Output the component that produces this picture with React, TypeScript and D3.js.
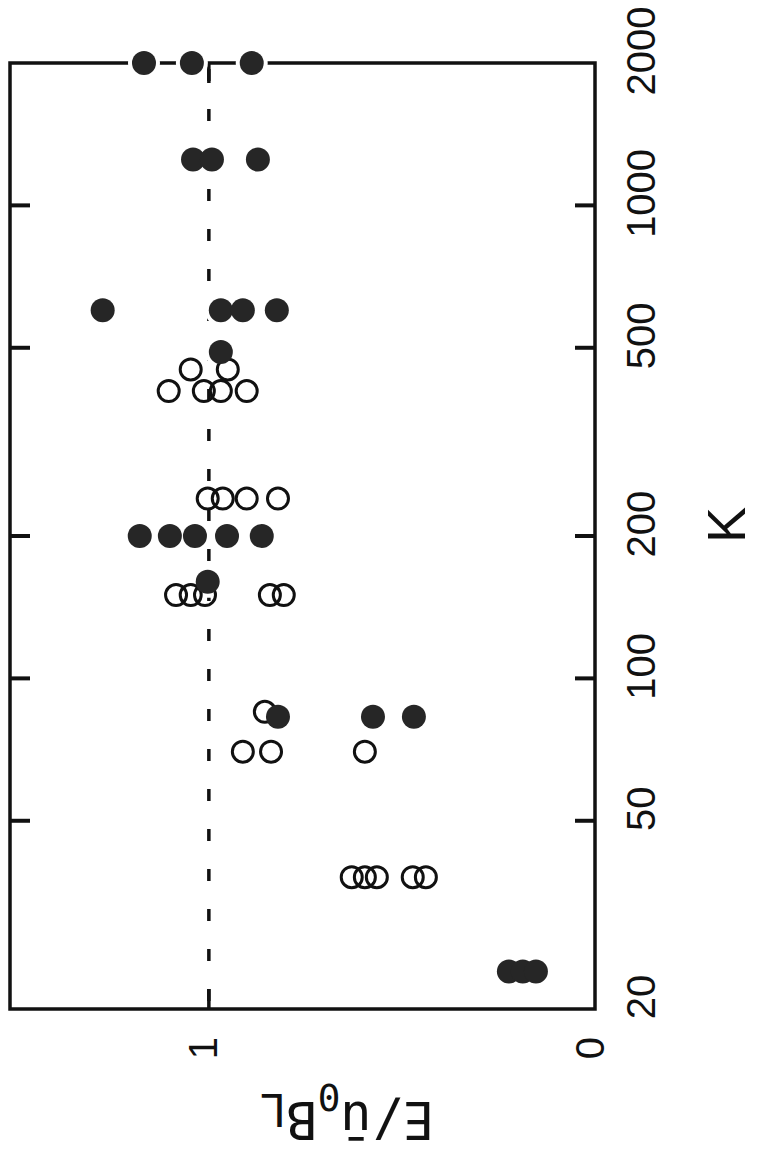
import React from "react";
import * as d3 from "d3";

// K values (log axis) and E/ū0BL values per group
const solidK = [2000, 1250, 600, 490, 200, 160, 83, 24];
const solidE = [
  [1.168, 1.044, 0.889],
  [1.041, 0.992, 0.873],
  [1.275, 0.969, 0.912, 0.824],
  [0.969],
  [1.179, 1.101, 1.036, 0.953, 0.863],
  [1.003],
  [0.821, 0.575, 0.469],
  [0.223, 0.187, 0.153],
];
const openK = [450, 405, 240, 150, 85, 70, 38];
const openE = [
  [1.047, 0.951],
  [1.104, 1.013, 0.969, 0.902],
  [1.003, 0.964, 0.902, 0.821],
  [1.085, 1.047, 1.01, 0.842, 0.806],
  [0.855],
  [0.912, 0.839, 0.596],
  [0.63, 0.596, 0.565, 0.472, 0.438],
];
const kTicks = [50, 100, 200, 500, 1000];
const kLabels = [20, 50, 100, 200, 500, 1000, 2000];
const eLabels = [0, 1];
const refLine = 1;

const W = 758;
const H = 1158;
const left = 10, right = 595, top = 63, bottom = 1009;

export default function App() {
  const yK = d3.scaleLog().domain([20, 2000]).range([bottom, top]);
  const xE = d3.scaleLinear().domain([0, 1.515]).range([right, left]);

  const solid = solidK.flatMap((k, i) => solidE[i].map((e) => ({ k, e })));
  const open = openK.flatMap((k, i) => openE[i].map((e) => ({ k, e })));
  const ink = "#111";
  const tickLen = 20;

  return (
    <svg
      width={W}
      height={H}
      style={{ position: "absolute", left: 0, top: 0, display: "block", background: "#fff" }}
    >
      <rect x={0} y={0} width={W} height={H} fill="#fff" />
      {/* reference dashed line */}
      <line
        x1={xE(refLine)}
        x2={xE(refLine)}
        y1={top}
        y2={bottom}
        stroke={ink}
        strokeWidth={3.5}
        strokeDasharray="12 28"
        strokeDashoffset={-6}
      />
      {/* frame */}
      <rect x={left} y={top} width={right - left} height={bottom - top} fill="none" stroke={ink} strokeWidth={3.5} />
      {/* K ticks */}
      {kTicks.map((k) => (
        <g key={"kt" + k}>
          <line x1={left} x2={left + tickLen} y1={yK(k)} y2={yK(k)} stroke={ink} strokeWidth={4} />
          <line x1={right} x2={right - tickLen} y1={yK(k)} y2={yK(k)} stroke={ink} strokeWidth={4} />
        </g>
      ))}
      {/* E ticks */}
      <line x1={xE(1)} x2={xE(1)} y1={top} y2={top + tickLen} stroke={ink} strokeWidth={3.5} />
      <line x1={xE(1)} x2={xE(1)} y1={bottom} y2={bottom - tickLen} stroke={ink} strokeWidth={3.5} />
      {/* K labels */}
      {kLabels.map((k) => (
        <text
          key={"kl" + k}
          transform={`translate(655,${yK(k) - 12}) rotate(-90)`}
          textAnchor="middle"
          fontFamily="'Liberation Sans', Arial, sans-serif"
          fontSize={40}
          fill={ink}
        >
          {k}
        </text>
      ))}
      {/* E labels */}
      {eLabels.map((e) => (
        <text
          key={"el" + e}
          transform={`translate(${xE(e) - 6 + 14.5},1048) rotate(-90)`}
          textAnchor="middle"
          fontFamily="'Liberation Sans', Arial, sans-serif"
          fontSize={40}
          fill={ink}
        >
          {e}
        </text>
      ))}
      {/* axis titles */}
      <text
        transform={`translate(745,${(top + bottom) / 2 - 11}) rotate(-90)`}
        textAnchor="middle"
        fontFamily="'Liberation Sans', Arial, sans-serif"
        fontSize={54}
        fill={ink}
      >
        K
      </text>
      <g transform="translate(347,1102) rotate(180)">
        <text
          x={0}
          y={0}
          textAnchor="middle"
          fontFamily="'DejaVu Sans Mono', monospace"
          fontSize={52}
          fill={ink}
        >
          <tspan>E/ū</tspan>
          <tspan fontSize={38} dy={18}>0</tspan>
          <tspan dy={-18}>B</tspan>
          <tspan fontSize={44} dy={8}>L</tspan>
        </text>
      </g>
      {/* halos behind filled dots */}
      {solid.map((d, i) => (
        <circle key={"h" + i} cx={xE(d.e)} cy={yK(d.k)} r={16} fill="#fff" />
      ))}
      {/* open circles */}
      {open.map((d, i) => (
        <circle key={"o" + i} cx={xE(d.e)} cy={yK(d.k)} r={10.5} fill="none" stroke={ink} strokeWidth={3} />
      ))}
      {/* filled dots */}
      {solid.map((d, i) => (
        <circle key={"s" + i} cx={xE(d.e)} cy={yK(d.k)} r={12} fill="#262626" />
      ))}
    </svg>
  );
}
